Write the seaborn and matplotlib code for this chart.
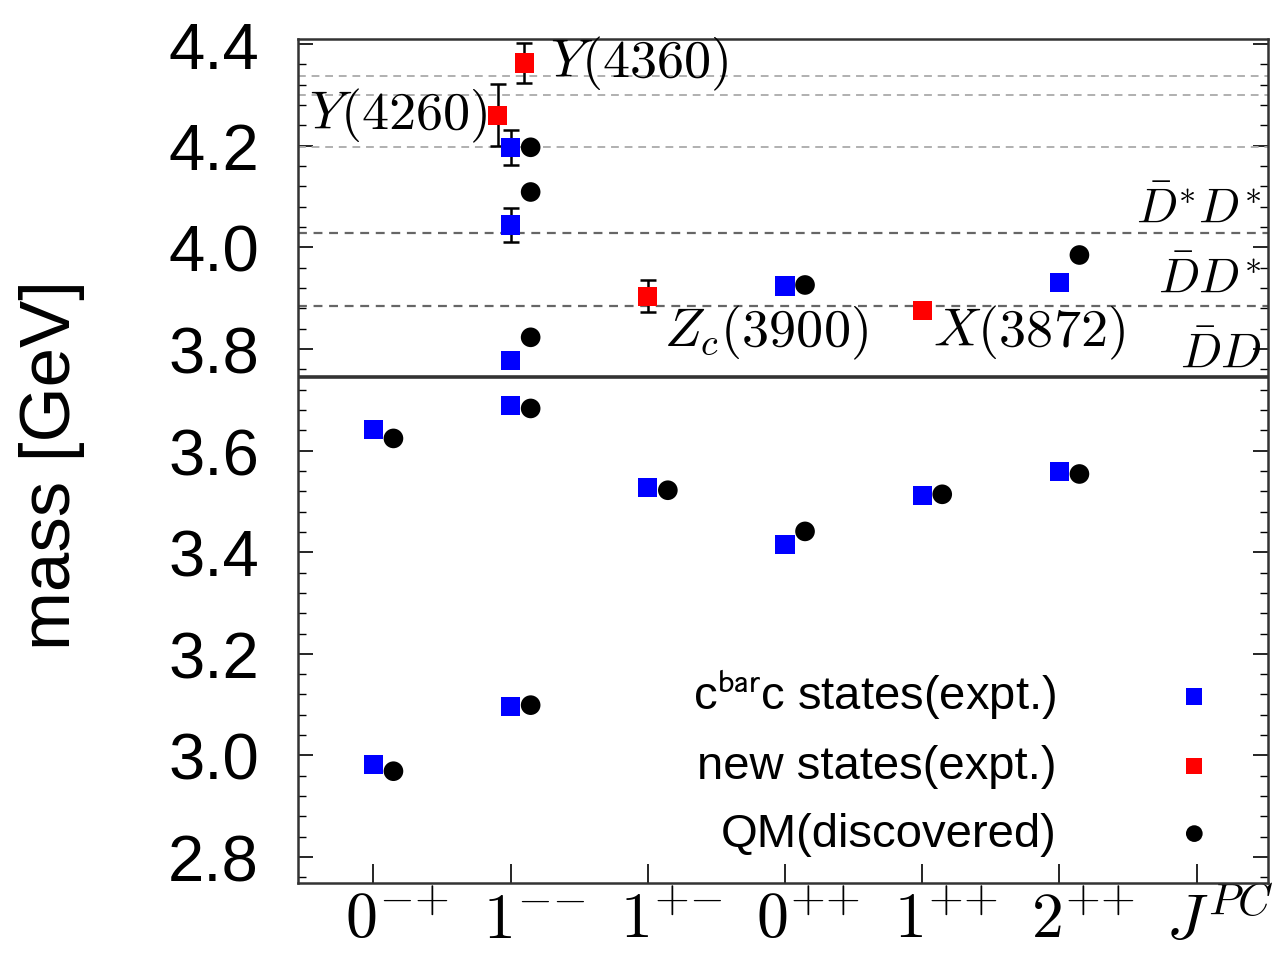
import numpy as np
import pandas as pd
import matplotlib
matplotlib.use('Agg')
import matplotlib.pyplot as plt
import seaborn as sns
from matplotlib.ticker import MultipleLocator
from matplotlib.font_manager import FontProperties

# --- data ---
jpc_order = ['0-+', '1--', '1+-', '0++', '1++', '2++', 'JPC']
jpc_ticks = [r'$0^{{-}{+}}$', r'$1^{{-}{-}}$', r'$1^{{+}{-}}$', r'$0^{{+}{+}}$',
             r'$1^{{+}{+}}$', r'$2^{{+}{+}}$', r'$J^{PC}$']

# charmonium states (experiment), blue squares
ccbar_jpc = ['0-+', '0-+', '1--', '1--', '1--', '1--', '1--', '1+-', '0++', '0++', '1++', '2++', '2++']
ccbar_mass = [2.983, 3.642, 3.097, 3.689, 3.778, 4.044, 4.197, 3.528, 3.416, 3.924, 3.512, 3.559, 3.931]
ccbar_err = [0, 0, 0, 0, 0, 0.034, 0.034, 0, 0, 0, 0, 0, 0]

# new states (experiment), red squares
new_jpc = ['1--', '1--', '1+-', '1++']
new_mass = [4.260, 4.363, 3.904, 3.876]
new_err = [0.061, 0.040, 0.031, 0.0]
new_names = [r'$Y(4260)$', r'$Y(4360)$', r'$Z_c(3900)$', r'$X(3872)$']

# quark model predictions, black circles
qm_jpc = ['0-+', '0-+', '1--', '1--', '1--', '1--', '1--', '1+-', '0++', '0++', '1++', '2++', '2++']
qm_mass = [2.969, 3.624, 3.099, 3.683, 3.823, 4.109, 4.197, 3.522, 3.441, 3.926, 3.514, 3.554, 3.985]

# open-charm thresholds
threshold_names = [r'$\bar{D}D$', r'$\bar{D}D^{*}$', r'$\bar{D}^{*}D^{*}$']
threshold_mass = [3.744, 3.885, 4.028]
other_lines = [4.197, 4.300, 4.338]

# --- plotting ---
sns.set_theme(style='ticks')
plt.rcParams['font.family'] = ['Liberation Sans', 'DejaVu Sans']
plt.rcParams['mathtext.fontset'] = 'cm'
plt.rcParams['text.color'] = 'black'
plt.rcParams['xtick.color'] = 'black'
plt.rcParams['ytick.color'] = 'black'
plt.rcParams['axes.labelcolor'] = 'black'

pos = {k: i for i, k in enumerate(jpc_order)}
new_shift = [-0.095, 0.1, 0.0, 0.0]

ccbar = pd.DataFrame({'x': [pos[j] for j in ccbar_jpc], 'mass': ccbar_mass, 'err': ccbar_err})
new = pd.DataFrame({'x': [pos[j] + s for j, s in zip(new_jpc, new_shift)], 'mass': new_mass, 'err': new_err})
qm = pd.DataFrame({'x': [pos[j] + 0.146 for j in qm_jpc], 'mass': qm_mass})

fig = plt.figure(figsize=(12.81, 9.54), dpi=100)
ax = fig.add_axes([0.2326, 0.0734, 0.7572, 0.8846])

# reference lines
for m in other_lines:
    ax.axhline(m, color='#b0b0b0', ls=(0, (4, 3)), lw=1.4, zorder=1)
for m in threshold_mass[1:]:
    ax.axhline(m, color='#666666', ls=(0, (4, 3)), lw=1.6, zorder=1)
ax.axhline(threshold_mass[0], color='#333333', lw=2.6, zorder=1)

# error bars
for df in (ccbar, new):
    eb = df[df.err > 0]
    ax.errorbar(eb.x, eb.mass, yerr=eb.err, fmt='none', ecolor='black', elinewidth=1.8,
                capsize=6, capthick=1.8, zorder=2)

sns.scatterplot(data=ccbar, x='x', y='mass', marker='s', s=190, color='#0000ff', edgecolor='none',
                label=r'c$^{\rm bar}$c states(expt.)', ax=ax, zorder=3)
sns.scatterplot(data=new, x='x', y='mass', marker='s', s=190, color='#ff0000', edgecolor='none',
                label='new states(expt.)', ax=ax, zorder=3)
sns.scatterplot(data=qm, x='x', y='mass', marker='o', s=200, color='black', edgecolor='none',
                label='QM(discovered)', ax=ax, zorder=3)

# state names
ax.text(1.29, new_mass[1], new_names[1], fontsize=39, ha='left', va='center')
ax.text(0.83, new_mass[0], new_names[0], fontsize=39, ha='right', va='center')
ax.text(2.12, 3.833, new_names[2], fontsize=39, ha='left', va='center')
ax.text(4.08, 3.833, new_names[3], fontsize=39, ha='left', va='center')
for name, y in zip(threshold_names, [3.79, 3.937, 4.075]):
    ax.text(6.47, y, name, fontsize=35, ha='right', va='center')

ax.set_xlim(-0.55, 6.52)
ax.set_ylim(2.749, 4.41)
# tick marks at the categories, labels sit a bit to the right of them
ax.set_xticks(range(len(jpc_order)), [''] * len(jpc_order))
ax.set_xticks([i + 0.17 for i in range(len(jpc_order))], jpc_ticks, minor=True, fontsize=46)
ax.yaxis.set_major_locator(MultipleLocator(0.2))
ax.yaxis.set_minor_locator(MultipleLocator(0.04))
ax.set_yticklabels([f'{v:.1f}' for v in ax.get_yticks()])
ax.tick_params(axis='y', which='major', direction='in', length=11, width=1.2, labelsize=47,
               left=True, right=True, pad=28)
ax.tick_params(axis='y', which='minor', direction='in', length=6, width=1.0, left=True, right=True)
ax.tick_params(axis='x', which='major', direction='in', length=14, width=1.2, top=False)
ax.tick_params(axis='x', which='minor', length=0, pad=5, top=False)
ax.set_xlabel('')
ax.set_ylabel('mass [GeV]', fontsize=51)
ax.yaxis.set_label_coords(-0.22, 0.496)
for sp in ax.spines.values():
    sp.set_visible(True)
    sp.set_color('#333333')
    sp.set_linewidth(1.8)

leg_font = FontProperties(family='Liberation Sans', size=34, math_fontfamily='stixsans')
ax.legend(loc='center right', bbox_to_anchor=(0.9387, 0.1445), frameon=False, markerfirst=False,
          prop=leg_font, handlelength=0.6, handletextpad=2.62, labelspacing=0.5, borderpad=0,
          borderaxespad=0, markerscale=0.85)

fig.savefig('out.png', dpi=100)
